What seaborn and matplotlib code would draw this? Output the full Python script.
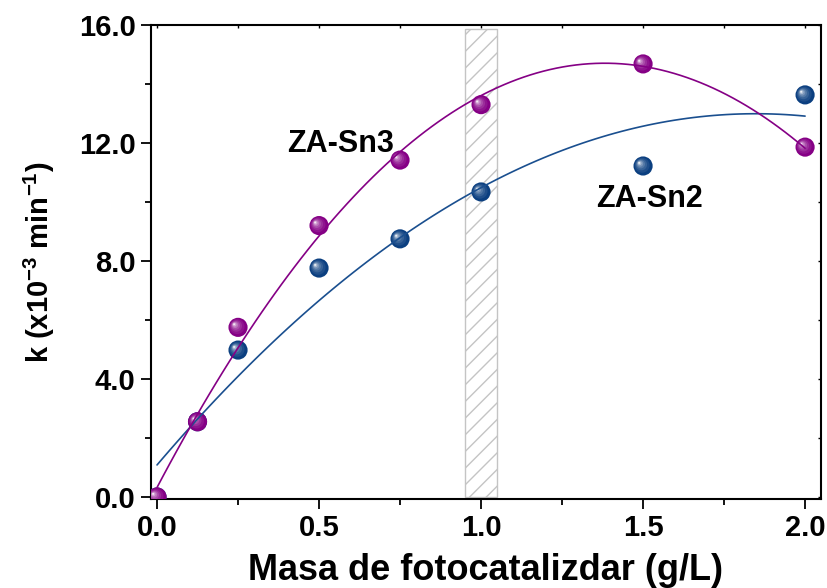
import numpy as np
import matplotlib
matplotlib.use("Agg")
import matplotlib.pyplot as plt
import seaborn as sns
from matplotlib.colors import to_rgb
from matplotlib.patches import Rectangle
from matplotlib.transforms import ScaledTranslation
from matplotlib.ticker import MultipleLocator, FormatStrFormatter

# datos
masa = [0.0, 0.125, 0.25, 0.5, 0.75, 1.0, 1.5, 2.0]
k_sn3 = [0.0, 2.55, 5.75, 9.2, 11.42, 13.3, 14.68, 11.86]
k_sn2 = [0.0, 2.55, 4.98, 7.76, 8.75, 10.34, 11.22, 13.63]

x_ticks = [0.0, 0.5, 1.0, 1.5, 2.0]
y_ticks = [0.0, 4.0, 8.0, 12.0, 16.0]
zona = (0.95, 1.05, 15.85)   # banda rayada: x0, x1, alto

PURPLE = "#850085"
BLUE = "#0b3f80"

sns.set_theme(style="ticks")
plt.rcParams["font.family"] = ["Liberation Sans", "DejaVu Sans"]
plt.rcParams["font.weight"] = "bold"
plt.rcParams["text.color"] = "black"
plt.rcParams["axes.labelcolor"] = "black"
plt.rcParams["xtick.color"] = "black"
plt.rcParams["ytick.color"] = "black"
plt.rcParams["mathtext.fontset"] = "custom"
plt.rcParams["mathtext.rm"] = "Liberation Sans:bold"
plt.rcParams["mathtext.bf"] = "Liberation Sans:bold"
plt.rcParams["mathtext.default"] = "bf"
plt.rcParams["hatch.linewidth"] = 1.0

fig = plt.figure(figsize=(8.28, 5.88), dpi=100)
ax = fig.add_axes([0.1824, 0.1514, 0.8091, 0.8061])


def sphere(ax, x, y, color, s=190):
    base = np.array(to_rgb(color))
    sns.scatterplot(x=x, y=y, s=s, color=color, edgecolor="none", ax=ax,
                    zorder=3, legend=False)
    r = np.sqrt(s) / 2
    for f, w in zip([0.78, 0.6, 0.45, 0.32, 0.2, 0.1],
                    [0.08, 0.18, 0.3, 0.45, 0.65, 0.92]):
        c = base * (1 - w) + w
        d = (1 - f) * r * 0.45
        tr = ax.transData + ScaledTranslation(-d / 72, d * 0.8 / 72, fig.dpi_scale_trans)
        ax.scatter(x, y, s=s * f * f, color=c, edgecolor="none",
                   transform=tr, zorder=3)


# banda rayada
ax.add_patch(Rectangle((zona[0], 0), zona[1] - zona[0], zona[2], fill=False,
                       edgecolor="#c4c4c4", hatch="//", lw=1.0, zorder=1))

sphere(ax, masa, k_sn2, BLUE)
sphere(ax, masa, k_sn3, PURPLE)

sns.regplot(x=masa, y=k_sn2, order=2, ci=None, scatter=False, ax=ax,
            line_kws=dict(color="#1a4f8f", lw=1.2, zorder=4))
sns.regplot(x=masa, y=k_sn3, order=2, ci=None, scatter=False, ax=ax,
            line_kws=dict(color=PURPLE, lw=1.2, zorder=4))

ax.text(0.565, 11.97, "ZA-Sn3", fontsize=22, fontweight="bold",
        ha="center", va="center", color="black")
ax.text(1.52, 10.1, "ZA-Sn2", fontsize=22, fontweight="bold",
        ha="center", va="center", color="black")

ax.set_xlim(-0.0185, 2.049)
ax.set_ylim(-0.068, 16.0)
ax.set_xticks(x_ticks)
ax.set_yticks(y_ticks)
ax.xaxis.set_minor_locator(MultipleLocator(0.25))
ax.yaxis.set_minor_locator(MultipleLocator(2))
ax.yaxis.set_major_formatter(FormatStrFormatter("%.1f"))
ax.xaxis.set_major_formatter(FormatStrFormatter("%.1f"))
ax.tick_params(which="major", direction="out", length=7, width=1.3,
               labelsize=21, pad=4, color="black", labelcolor="black")
ax.tick_params(which="minor", direction="out", length=4, width=1.3, color="black")
for lab in ax.get_xticklabels() + ax.get_yticklabels():
    lab.set_fontweight("bold")

for side in ["top", "right", "left", "bottom"]:
    ax.spines[side].set_visible(True)
    ax.spines[side].set_linewidth(1.5)
    ax.spines[side].set_color("black")

# marcas interiores arriba y a la derecha
top = ax.secondary_xaxis("top")
top.set_xticks(x_ticks)
top.xaxis.set_minor_locator(MultipleLocator(0.25))
top.tick_params(which="both", direction="in", length=2.5, width=1.0,
                labeltop=False, color="black")
right = ax.secondary_yaxis("right")
right.set_yticks(y_ticks)
right.yaxis.set_minor_locator(MultipleLocator(2))
right.tick_params(which="both", direction="in", length=2.5, width=1.0,
                  labelright=False, color="black")

ax.set_xlabel("Masa de fotocatalizdar (g/L)", fontsize=26, fontweight="bold",
              labelpad=8, color="black")
ax.set_ylabel(r"k (x10$^{-3}$ min$^{-1}$)", fontsize=21, fontweight="bold",
              labelpad=16, color="black")

fig.savefig("out.png", dpi=100)
